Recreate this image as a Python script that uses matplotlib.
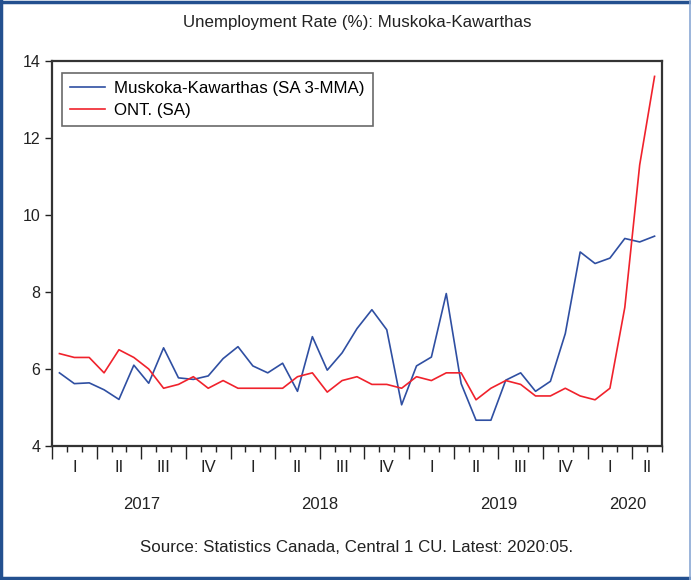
import matplotlib
matplotlib.use("Agg")
import matplotlib.pyplot as plt
from matplotlib.lines import Line2D
from matplotlib.ticker import FixedLocator, NullFormatter

plt.rcParams["font.family"] = ["Liberation Sans", "DejaVu Sans"]

# monthly data, Jan 2017 .. May 2020
muskoka = [5.90, 5.62, 5.64, 5.46, 5.21, 6.10, 5.63, 6.55, 5.77, 5.73,
           5.82, 6.27, 6.58, 6.08, 5.90, 6.15, 5.42, 6.84, 5.97, 6.42,
           7.05, 7.54, 7.02, 5.07, 6.08, 6.31, 7.96, 5.62, 4.67, 4.67,
           5.71, 5.90, 5.42, 5.68, 6.92, 9.04, 8.74, 8.88, 9.39, 9.30, 9.45]
ontario = [6.4, 6.3, 6.3, 5.9, 6.5, 6.3, 6.0, 5.5, 5.6, 5.8,
           5.5, 5.7, 5.5, 5.5, 5.5, 5.5, 5.8, 5.9, 5.4, 5.7,
           5.8, 5.6, 5.6, 5.5, 5.8, 5.7, 5.9, 5.9, 5.2, 5.5,
           5.7, 5.6, 5.3, 5.3, 5.5, 5.3, 5.2, 5.5, 7.6, 11.3, 13.6]
quarter_labels = ["I", "II", "III", "IV"] * 3 + ["I", "II"]
quarter_pos = [1 + 3 * k for k in range(13)] + [39.5]
years = ["2017", "2018", "2019", "2020"]
year_pos = [5.5, 17.5, 29.5, 38.2]
yticks = [4, 6, 8, 10, 12, 14]

months = list(range(len(muskoka)))

fig = plt.figure(figsize=(6.91, 5.80), dpi=100)
ax = fig.add_axes([52 / 691, 1 - 446 / 580, 610 / 691, 385 / 580])

ax.plot(months, muskoka, color="#2f4fa2", lw=1.2, label="Muskoka-Kawarthas (SA 3-MMA)")
ax.plot(months, ontario, color="#f0222c", lw=1.2, label="ONT. (SA)")

ax.set_xlim(-0.5, 40.5)
ax.set_ylim(4, 14)
ax.set_yticks(yticks)
ax.tick_params(axis="y", direction="out", length=5, width=1, labelsize=11.5, colors="#222222")

ax.xaxis.set_major_locator(FixedLocator([-0.5 + 3 * k for k in range(14)]))
ax.xaxis.set_minor_locator(FixedLocator([-0.5 + k for k in range(42)]))
ax.xaxis.set_major_formatter(NullFormatter())
ax.tick_params(axis="x", which="major", direction="out", length=9, width=1, color="#222222")
ax.tick_params(axis="x", which="minor", direction="out", length=4, width=1, color="#222222")

for s in ax.spines.values():
    s.set_color("#333333")
    s.set_linewidth(1.6)

tr = ax.get_xaxis_transform()
for lab, p in zip(quarter_labels, quarter_pos):
    ax.text(p, -0.055, lab, transform=tr, ha="center", va="center", fontsize=12, color="#222222")
for lab, p in zip(years, year_pos):
    ax.text(p, -0.152, lab, transform=tr, ha="center", va="center", fontsize=12, color="#222222")

leg = ax.legend(loc="upper left", bbox_to_anchor=(0.016, 0.969), fontsize=12.2,
                frameon=True, fancybox=False, borderaxespad=0, handlelength=2.1,
                borderpad=0.48, labelspacing=0.43, handletextpad=0.5)
leg.get_frame().set_edgecolor("#444444")
leg.get_frame().set_linewidth(1.2)

fig.text(357 / 691, 1 - 22 / 580, "Unemployment Rate (%): Muskoka-Kawarthas",
         ha="center", va="center", fontsize=12.2, color="#222222")
fig.text(357 / 691, 1 - 548 / 580, "Source: Statistics Canada, Central 1 CU. Latest: 2020:05.",
         ha="center", va="center", fontsize=12.2, color="#222222")

# figure border
dark = "#23508f"
fig.add_artist(Line2D([0.002, 0.002], [0, 1], transform=fig.transFigure, color=dark, lw=2.5))
fig.add_artist(Line2D([0, 1], [0.997, 0.997], transform=fig.transFigure, color=dark, lw=2.5))
fig.add_artist(Line2D([0, 1], [0.003, 0.003], transform=fig.transFigure, color=dark, lw=2.5))
fig.add_artist(Line2D([0.998, 0.998], [0, 1], transform=fig.transFigure, color="#8aa8d4", lw=1.2))

fig.savefig("out.png", dpi=100)
